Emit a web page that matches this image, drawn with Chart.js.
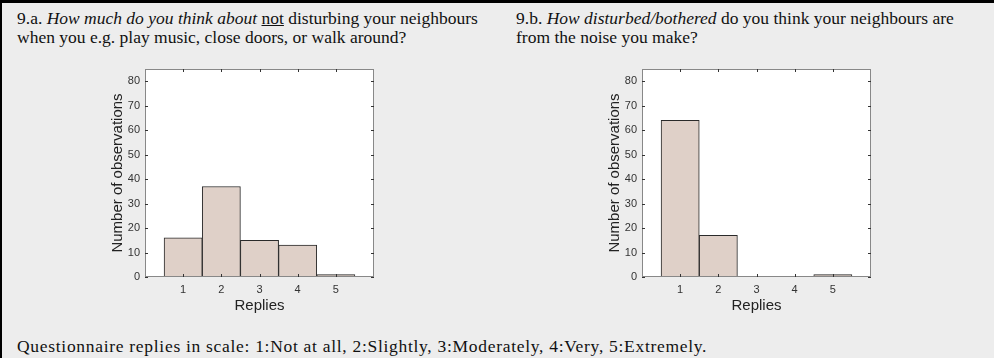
<!DOCTYPE html>
<html>
<head>
<meta charset="utf-8">
<script src="https://cdn.jsdelivr.net/npm/chart.js@4/dist/chart.umd.min.js"></script>
<style>
  body { margin: 0; width: 994px; height: 358px; background: #ededed; position: relative; overflow: hidden; }
  .edge-top { position: absolute; left: 0; top: 0; width: 994px; height: 3px; background: #000; }
  .edge-left { position: absolute; left: 0; top: 0; width: 2px; height: 358px; background: #000; }
  .txt { position: absolute; font-family: "Liberation Serif", "Times New Roman", serif; font-size: 17.5px; line-height: 19px; color: #111; white-space: nowrap; }
  canvas { position: absolute; }
</style>
</head>
<body>
<div class="edge-top"></div>
<div class="edge-left"></div>
<div class="txt" style="left:17px; top:9px;">9.a. <i>How much do you think about</i> <u>not</u> disturbing your neighbours<br>when you e.g. play music, close doors, or walk around?</div>
<div class="txt" style="left:516px; top:9px;">9.b. <i>How disturbed/bothered</i> do you think your neighbours are<br>from the noise you make?</div>
<div class="txt" style="left:17px; top:337px; letter-spacing:0.7px;">Questionnaire replies in scale: 1:Not at all, 2:Slightly, 3:Moderately, 4:Very, 5:Extremely.</div>
<canvas id="chartA" width="300" height="270" style="left:90px; top:55px;"></canvas>
<canvas id="chartB" width="300" height="270" style="left:587px; top:55px;"></canvas>
<script>
const replies = [1, 2, 3, 4, 5];
const thinkCounts = [16, 37, 15, 13, 1];    // 9.a
const botherCounts = [64, 17, 0, 0, 1];     // 9.b
const yTicks = [0, 10, 20, 30, 40, 50, 60, 70, 80];
const xTicks = [1, 2, 3, 4, 5];

// white plot background + matlab-like box with inward ticks on all four sides
const boxPlugin = {
  id: 'box',
  beforeDatasetsDraw(chart) {
    const { ctx, chartArea: a } = chart;
    ctx.save();
    ctx.fillStyle = '#fff';
    ctx.fillRect(a.left, a.top, a.right - a.left, a.bottom - a.top);
    ctx.restore();
  },
  afterDatasetsDraw(chart) {
    const { ctx, chartArea: a, scales } = chart;
    ctx.save();
    ctx.strokeStyle = '#888';
    ctx.lineWidth = 1;
    ctx.strokeRect(a.left + 0.5, a.top + 0.5, a.right - a.left - 1, a.bottom - a.top - 1);
    ctx.strokeStyle = '#333';
    ctx.beginPath();
    xTicks.forEach(v => {
      const x = Math.round(scales.x.getPixelForValue(v)) + 0.5;
      ctx.moveTo(x, a.bottom); ctx.lineTo(x, a.bottom - 3);
      ctx.moveTo(x, a.top); ctx.lineTo(x, a.top + 3);
    });
    yTicks.forEach(v => {
      const y = Math.round(scales.y.getPixelForValue(v)) + 0.5;
      ctx.moveTo(a.left, y); ctx.lineTo(a.left + 3, y);
      ctx.moveTo(a.right, y); ctx.lineTo(a.right - 3, y);
    });
    ctx.stroke();
    ctx.restore();
  }
};

function makeChart(id, counts) {
  const ctx = document.getElementById(id).getContext('2d');
  return new Chart(ctx, {
    type: 'bar',
    data: {
      datasets: [{
        data: replies.map((r, i) => ({ x: r, y: counts[i] })),
        backgroundColor: '#dfd0c8',
        borderColor: '#2a2a2a',
        borderWidth: 1,
        barPercentage: 1,
        categoryPercentage: 1
      }]
    },
    options: {
      responsive: false,
      animation: false,
      devicePixelRatio: 1,
      layout: { padding: { top: 14, right: 16, left: 0, bottom: 0 } },
      plugins: { legend: { display: false }, tooltip: { enabled: false } },
      scales: {
        x: {
          type: 'linear',
          offset: false,
          min: 0,
          max: 6,
          grid: { display: false, drawTicks: false, offset: false },
          border: { display: false },
          afterBuildTicks: s => { s.ticks = xTicks.map(v => ({ value: v })); },
          afterFit: s => { s.height = 48; },
          ticks: { padding: 6, color: '#333', font: { family: 'Liberation Sans', size: 11 } },
          title: { display: true, text: 'Replies', color: '#222', padding: { top: 0, bottom: 10 }, font: { family: 'Liberation Sans', size: 15 } }
        },
        y: {
          min: 0,
          max: 85,
          grid: { display: false, drawTicks: false },
          border: { display: false },
          afterBuildTicks: s => { s.ticks = yTicks.map(v => ({ value: v })); },
          afterFit: s => { s.width = 55; },
          ticks: { padding: 5, color: '#333', font: { family: 'Liberation Sans', size: 11 } },
          title: { display: true, text: 'Number of observations', color: '#222', padding: { top: 19, bottom: 0 }, font: { family: 'Liberation Sans', size: 15 } }
        }
      }
    },
    plugins: [boxPlugin]
  });
}

makeChart('chartA', thinkCounts);
makeChart('chartB', botherCounts);
</script>
</body>
</html>
